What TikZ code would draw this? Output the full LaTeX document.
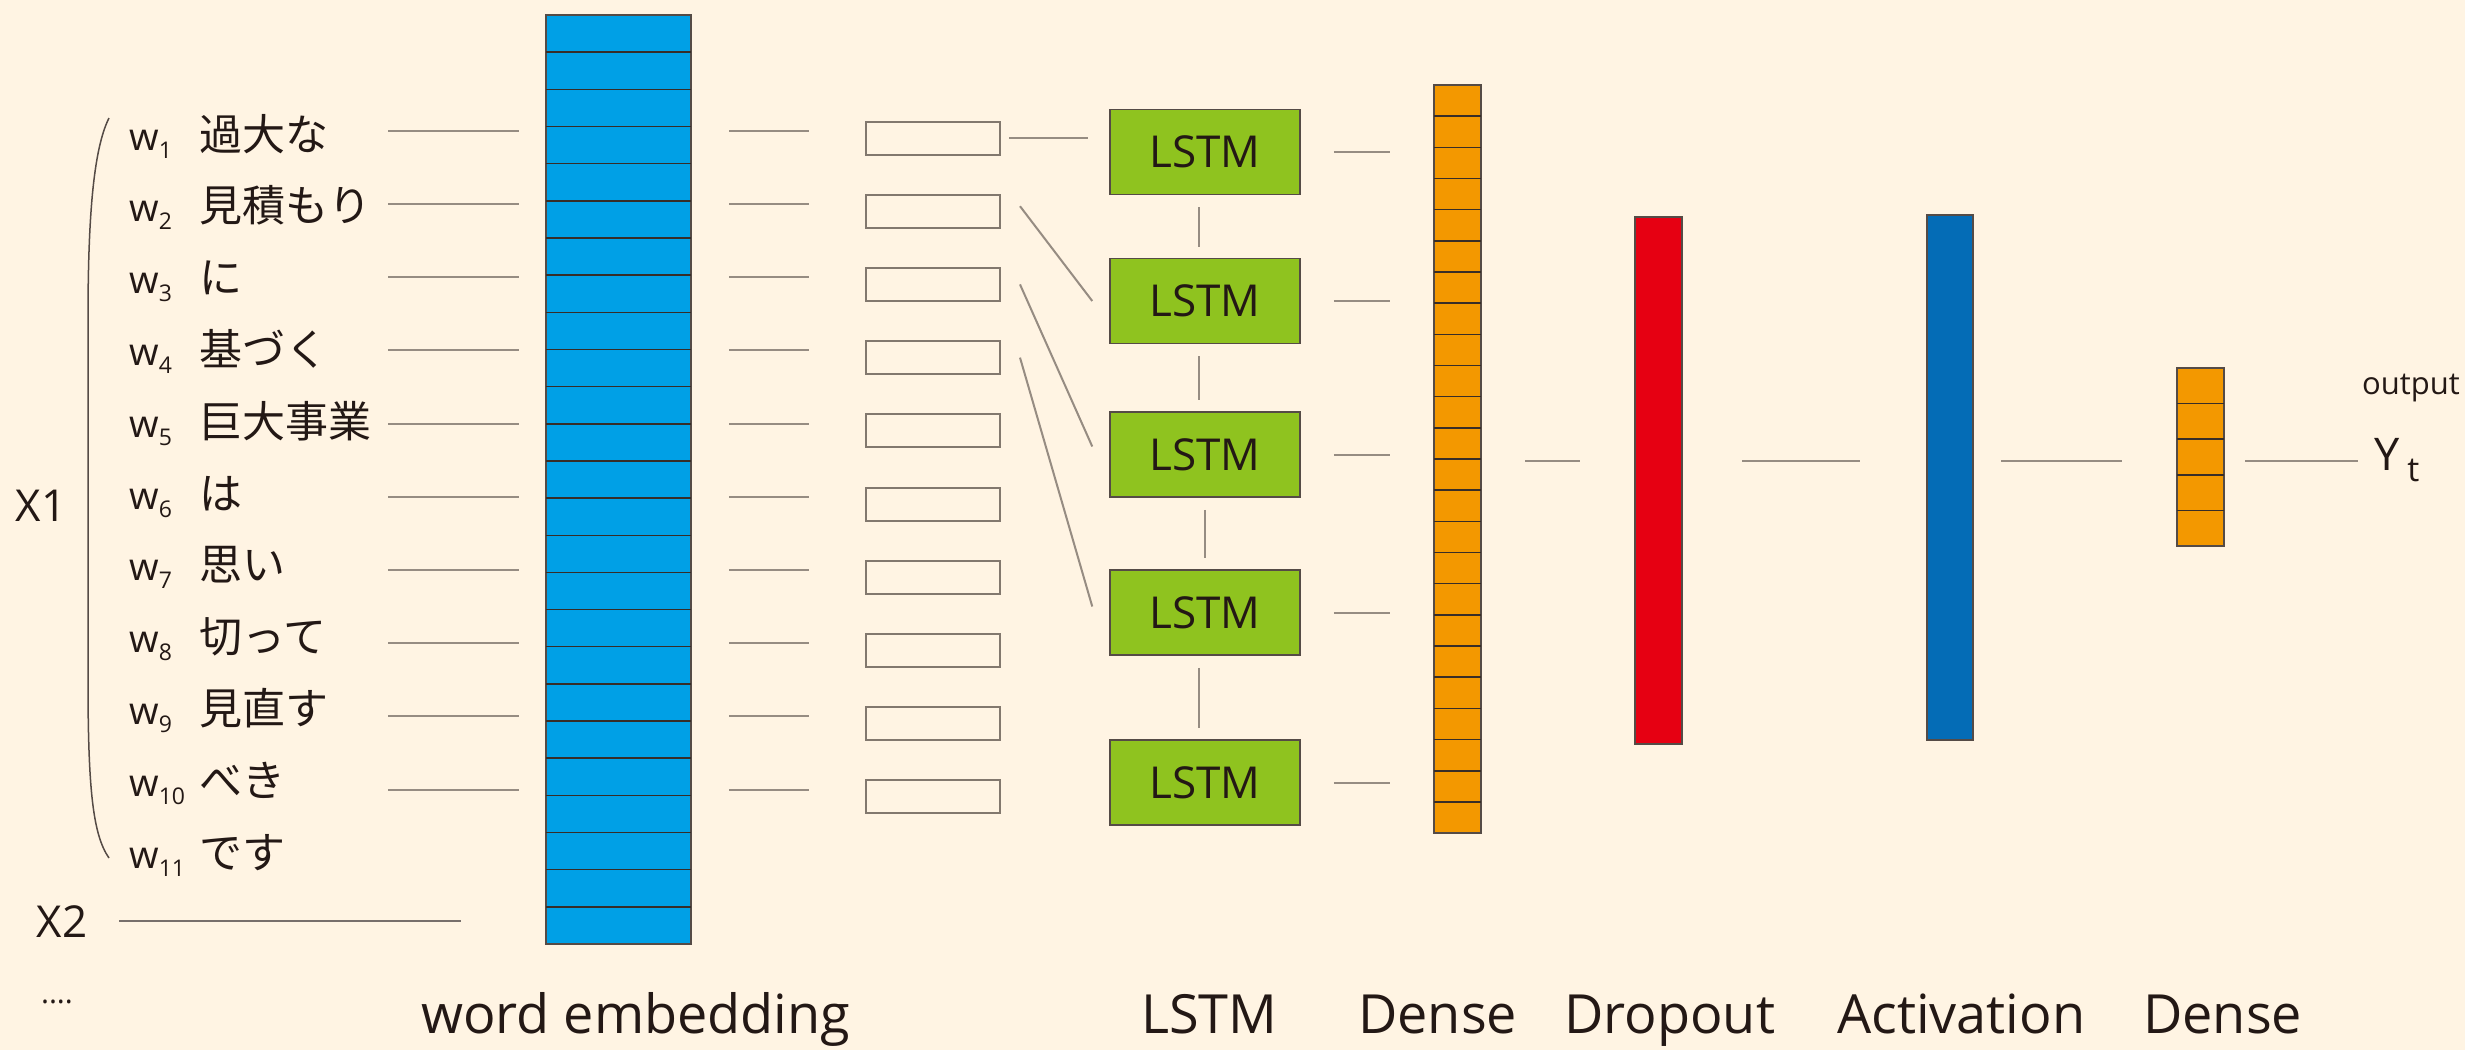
\documentclass[tikz,border=0pt]{standalone}
\usepackage{fontspec}
\setmainfont{Open Sans}
\newfontfamily\jp{Noto Sans CJK JP}
\definecolor{bgc}{RGB}{255,244,227}
\definecolor{embc}{RGB}{0,160,230}
\definecolor{lstmc}{RGB}{143,195,31}
\definecolor{orc}{RGB}{243,152,0}
\definecolor{redc}{RGB}{230,0,18}
\definecolor{actc}{RGB}{4,108,182}
\definecolor{linec}{RGB}{150,140,130}
\definecolor{bordc}{RGB}{85,75,70}
\definecolor{stc}{RGB}{55,45,40}
\definecolor{sbc}{RGB}{130,120,110}
\definecolor{txtc}{RGB}{35,24,21}
\begin{document}
\begin{tikzpicture}[x=1pt,y=-1pt,
  bar/.style={draw=bordc, line width=1.5pt, inner sep=0pt, outer sep=0pt, anchor=north west},
  stripe/.style={draw=stc, line width=1.5pt},
  conn/.style={draw=linec, line width=2pt},
  smallbox/.style={draw=sbc, line width=2pt, minimum width=134pt, minimum height=33pt, inner sep=0pt},
  lstmbox/.style={draw=bordc, fill=lstmc, line width=1.5pt, minimum width=190pt, minimum height=85pt, inner sep=0pt, font=\fontsize{44}{50}\selectfont, text=txtc},
  txt/.style={text=txtc, inner sep=0pt},
  wlab/.style={txt, anchor=base west, font=\fontsize{38}{44}\selectfont},
  jlab/.style={txt, anchor=base west, font=\jp\fontsize{43}{50}\selectfont},
  botlab/.style={txt, anchor=base west, font=\fontsize{54}{60}\selectfont}]
\useasboundingbox (0,0) rectangle (2465,1050);
\fill[bgc] (0,0) rectangle (2465,1050);

% input words
\foreach \i/\w in {1/過大な,2/見積もり,3/に,4/基づく,5/巨大事業,6/は,7/思い,8/切って,9/見直す,10/べき,11/です}{
  \node[wlab] (w\i) at (129,{150+71.8*(\i-1)}) {w\raisebox{-8pt}{\fontsize{23}{23}\selectfont\i}};
  \node[jlab] (j\i) at (199,{150+71.8*(\i-1)}) {\w};
}
\node[txt, font=\fontsize{44}{50}\selectfont] (x1) at (41,506) {X1};
\node[txt, font=\fontsize{44}{50}\selectfont] (x2) at (62,922) {X2};
\node[txt, font=\fontsize{30}{36}\selectfont, anchor=base] (dots) at (57,1003) {....};
\coordinate (bt) at (109,118);
\coordinate (bb) at (109,858);
\draw[bordc, line width=1.5pt] (bt) .. controls (93,150) and (88,220) .. (88,320) -- (88,680) .. controls (88,790) and (93,835) .. (bb);
\coordinate (x2e) at (461,921);
\draw[conn, draw=bordc!80] ([xshift=32pt]x2.east |- x2e) -- (x2e);

% embedding
\node[bar, fill=embc, minimum width=145pt, minimum height=929pt] (emb) at (546,15) {};
\foreach \i in {1,...,24}
  \draw[stripe] ([yshift=-\i*37.16pt]emb.north west) -- ([yshift=-\i*37.16pt]emb.north east);

% word lines, embedding lines, small boxes
\foreach \k in {1,...,10}{
  \coordinate (wa\k) at (388,{130.7+73.2*(\k-1)});
  \coordinate (wb\k) at (519,{130.7+73.2*(\k-1)});
  \draw[conn] (wa\k) -- (wb\k);
  \coordinate (ea\k) at (729,{130.7+73.2*(\k-1)});
  \coordinate (eb\k) at (809,{130.7+73.2*(\k-1)});
  \draw[conn] (ea\k) -- (eb\k);
  \node[smallbox] (sb\k) at (933,{138+73.2*(\k-1)}) {};
}

% LSTM boxes
\node[lstmbox] (l1) at (1205,152) {LSTM};
\node[lstmbox] (l2) at (1205,301) {LSTM};
\node[lstmbox] (l3) at (1205,454.5) {LSTM};
\node[lstmbox] (l4) at (1205,612.5) {LSTM};
\node[lstmbox] (l5) at (1205,782.5) {LSTM};

\draw[conn] ([xshift=-6pt,yshift=-12pt]l1.south) -- ([xshift=-6pt,yshift=11pt]l2.north);
\draw[conn] ([xshift=-6pt,yshift=-12pt]l2.south) -- ([xshift=-6pt,yshift=11pt]l3.north);
\draw[conn] ([yshift=-12pt]l3.south) -- ([yshift=11pt]l4.north);
\draw[conn] ([xshift=-6pt,yshift=-12pt]l4.south) -- ([xshift=-6pt,yshift=11pt]l5.north);

% small boxes to LSTMs
\draw[conn] ([xshift=8pt]sb1.east) -- ([xshift=-21pt]l1.west |- sb1.east);
\draw[conn] ([xshift=19pt,yshift=5pt]sb2.east) -- ([xshift=-17pt]l2.west);
\draw[conn] ([xshift=19pt]sb3.east) -- ([xshift=-17pt,yshift=8pt]l3.west);
\draw[conn] ([xshift=19pt]sb4.east) -- ([xshift=-17pt,yshift=6pt]l4.west);

% Dense 1
\node[bar, fill=orc, minimum width=47pt, minimum height=748pt] (d1) at (1434,85) {};
\foreach \i in {1,...,23}
  \draw[stripe] ([yshift=-\i*31.17pt]d1.north west) -- ([yshift=-\i*31.17pt]d1.north east);
\foreach \k in {1,...,5}
  \draw[conn] ([xshift=33pt]l\k.east) -- ([xshift=-44pt]d1.west |- l\k.east);

% Dropout, Activation, Dense 2
\node[bar, fill=redc, minimum width=47pt, minimum height=527pt] (drop) at (1635,217) {};
\node[bar, fill=actc, minimum width=46pt, minimum height=525pt] (act) at (1927,215) {};
\node[bar, fill=orc, minimum width=47pt, minimum height=178pt] (d2) at (2177,368) {};
\foreach \i in {1,...,4}
  \draw[stripe] ([yshift=-\i*35.6pt]d2.north west) -- ([yshift=-\i*35.6pt]d2.north east);

\node[txt, anchor=base west, font=\fontsize{45}{50}\selectfont] (yt) at (2374,470) {Y\hspace{8pt}\raisebox{-11pt}{\fontsize{34}{36}\selectfont t}};
\node[txt, anchor=base west, font=\fontsize{31}{36}\selectfont] (out) at (2362,394) {output};

\coordinate (mid) at (0,461);
\draw[conn] ([xshift=44pt]d1.east |- mid) -- ([xshift=-55pt]drop.west |- mid);
\draw[conn] ([xshift=60pt]drop.east |- mid) -- ([xshift=-67pt]act.west |- mid);
\draw[conn] ([xshift=28pt]act.east |- mid) -- ([xshift=-55pt]d2.west |- mid);
\draw[conn] ([xshift=21pt]d2.east |- mid) -- ([xshift=-16pt]yt.west |- mid);

% bottom labels
\node[botlab] (lb1) at (421,1033) {word embedding};
\node[botlab] (lb2) at (1141,1033) {LSTM};
\node[botlab] (lb3) at (1358,1033) {Dense};
\node[botlab] (lb4) at (1564,1033) {Dropout};
\node[botlab] (lb5) at (1837,1033) {Activation};
\node[botlab] (lb6) at (2143,1033) {Dense};
\end{tikzpicture}
\end{document}
